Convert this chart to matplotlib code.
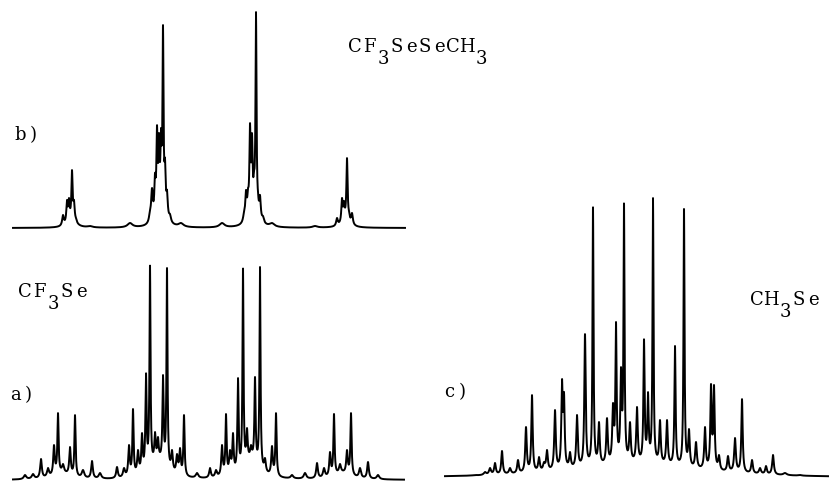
import numpy as np
import matplotlib.pyplot as plt

# peak lists (position in px along the trace,
# height above the baseline in px, half-width in px)

# b) CF3SeSeCH3
b_pos = [63, 67, 69, 72, 74, 76, 90, 130, 150, 152, 155, 157, 159, 161, 163, 165, 167, 170,
         181, 222, 244, 246, 248, 250, 252, 254, 256, 258, 260, 263, 272, 315, 337, 342, 344,
         347, 349, 352]
b_height = [13, 28, 30, 58, 28, 10, 2, 5, 18, 40, 55, 103, 95, 100, 203, 70, 38, 14,
            5, 5, 16, 38, 40, 105, 95, 58, 216, 36, 33, 12, 5, 2, 10, 30, 27,
            70, 17, 15]
b_width = [1.0, 0.8, 0.8, 0.7, 0.8, 1.0, 3, 3, 1.2, 1.0, 0.8, 0.7, 0.7, 0.7, 0.6, 0.7, 0.9, 1.2,
           3, 3, 1.2, 0.9, 0.8, 0.7, 0.7, 0.7, 0.6, 0.8, 0.9, 1.2, 3, 3, 1.0, 0.8, 0.8,
           0.7, 0.8, 1.0]
b_broad_pos = [72, 161, 253, 346]
b_broad_height = [6, 12, 12, 6]
b_broad_width = [5, 5, 5, 5]

# a) CF3Se
a_pos = [25, 33, 41, 48, 54, 58, 63, 70, 75, 83, 92, 100, 117, 124, 129, 133,
         138, 142, 146, 150, 155, 158, 163, 167, 172, 177, 180, 184, 197, 210,
         216, 222, 226, 230, 233, 238, 243, 247, 251, 255, 260, 265, 272, 276,
         292, 305, 317, 324, 330, 334, 340, 347, 351, 360, 368, 378]
a_height = [5, 6, 21, 12, 35, 67, 16, 33, 65, 10, 19, 7, 13, 12, 35, 71,
            30, 47, 107, 215, 48, 43, 105, 212, 30, 26, 32, 65, 7, 12,
            10, 35, 66, 30, 47, 102, 212, 52, 35, 103, 213, 22, 34, 67,
            5, 7, 17, 12, 28, 66, 16, 30, 67, 12, 18, 5]
a_width = [1.5, 1.5, 1.0, 1.2, 0.9, 0.7, 1.2, 0.9, 0.7, 1.5, 1.0, 1.5, 1.0, 1.2, 0.9, 0.7,
           1.0, 0.8, 0.7, 0.6, 0.8, 0.8, 0.7, 0.6, 1.0, 1.0, 0.9, 0.7, 1.5, 1.0,
           1.2, 0.9, 0.7, 1.0, 0.8, 0.7, 0.6, 0.8, 1.0, 0.7, 0.6, 1.0, 0.9, 0.7,
           1.5, 1.5, 1.0, 1.2, 0.9, 0.7, 1.2, 0.9, 0.7, 1.2, 1.0, 1.5]
a_broad_pos = [62, 158, 251, 343]
a_broad_height = [6, 18, 18, 6]
a_broad_width = [10, 9, 9, 10]

# c) CH3Se
c_pos = [45, 60, 70, 75, 80, 87, 95, 103, 111, 117, 124, 129, 132, 140, 147, 149,
         155, 162, 170, 178, 184, 192, 198, 201, 206, 209, 215, 222, 229, 233,
         238, 245, 252, 260, 269, 274, 281, 290, 296, 299, 304, 313, 320, 327,
         337, 345, 351, 358, 370, 385]
c_height = [2, 3, 6, 10, 15, 27, 10, 18, 51, 83, 21, 16, 28, 68, 99, 86,
            26, 63, 144, 271, 56, 60, 75, 156, 111, 275, 56, 71, 139, 86,
            280, 58, 58, 132, 270, 49, 36, 51, 94, 93, 23, 22, 40, 79,
            18, 10, 12, 23, 5, 3]
c_width = [3, 2, 1.5, 1.2, 1.0, 0.9, 1.2, 1.0, 0.9, 0.8, 1.0, 1.2, 1.0, 0.9, 0.8, 0.8,
           1.0, 0.9, 0.8, 0.6, 0.9, 0.9, 0.9, 0.7, 0.8, 0.6, 0.9, 0.9, 0.7, 0.8,
           0.6, 0.9, 0.9, 0.7, 0.6, 0.9, 1.0, 0.9, 0.8, 0.8, 1.0, 1.0, 1.0, 0.8,
           1.0, 1.2, 1.0, 1.0, 2, 2]
c_broad_pos = [220]
c_broad_height = [13]
c_broad_width = [75]


def lorentz(x, pos, width):
    x = np.asarray(x, dtype=float)[:, None]
    p = np.asarray(pos, dtype=float)[None, :]
    w = np.asarray(width, dtype=float)[None, :]
    return w**2 / ((x - p)**2 + w**2)


def spectrum(x, pos, height, width, broad_pos, broad_height, broad_width):
    # amplitudes chosen so the summed trace hits the read peak heights
    base = lorentz(pos, broad_pos, broad_width) @ np.asarray(broad_height, float)
    amp = np.linalg.solve(lorentz(pos, pos, width), np.asarray(height, float) - base)
    amp = np.clip(amp, 0, None)
    return lorentz(x, pos, width) @ amp + lorentz(x, broad_pos, broad_width) @ np.asarray(broad_height, float)


fig = plt.figure(figsize=(8.3, 4.83), dpi=100)
W, H = 830.0, 483.0


def panel(x0, y0, w, h):
    # rectangle given in pixels from the top-left corner
    ax = fig.add_axes([x0 / W, 1 - (y0 + h) / H, w / W, h / H])
    ax.set_axis_off()
    return ax


# b) top left, baseline at y=228
ax_b = panel(0, 0, 415, 240)
xb = np.linspace(13, 405, 5000)
yb = spectrum(xb, b_pos, b_height, b_width, b_broad_pos, b_broad_height, b_broad_width)
ax_b.plot(xb, yb, color='black', lw=1.4)
ax_b.set_xlim(0, 415)
ax_b.set_ylim(-12, 228)

# a) bottom left, baseline at y=480
ax_a = panel(0, 243, 415, 240)
xa = np.linspace(13, 404, 5000)
ya = spectrum(xa, a_pos, a_height, a_width, a_broad_pos, a_broad_height, a_broad_width)
ax_a.plot(xa, ya, color='black', lw=1.4)
ax_a.set_xlim(0, 415)
ax_a.set_ylim(-3, 237)

# c) right, baseline at y=478
ax_c = panel(415, 0, 415, 483)
xc = np.linspace(30, 413, 5000)
yc = spectrum(xc, c_pos, c_height, c_width, c_broad_pos, c_broad_height, c_broad_width)
ax_c.plot(xc, yc, color='black', lw=1.4)
ax_c.set_xlim(0, 415)
ax_c.set_ylim(-5, 478)


def typewriter(x, y, chars, size=13, pitch=14, sub_drop=12):
    # place characters one by one at a fixed pitch; '_' marks the next char as subscript
    i = 0
    sub = False
    for ch in chars:
        if ch == '_':
            sub = True
            continue
        yy = y + (sub_drop if sub else 0)
        fig.text((x + pitch * i) / W, 1 - yy / H, ch, ha='center', va='baseline',
                 fontsize=size, family='DejaVu Serif', color='black')
        sub = False
        i += 1


typewriter(355, 52, 'CF_3SeSeCH_3')
typewriter(25, 297, 'CF_3Se')
typewriter(757, 305, 'CH_3Se')
typewriter(20, 140, 'b)', pitch=13)
typewriter(15, 400, 'a)', pitch=13)
typewriter(449, 397, 'c)', pitch=13)

fig.savefig('out.png', dpi=100)
